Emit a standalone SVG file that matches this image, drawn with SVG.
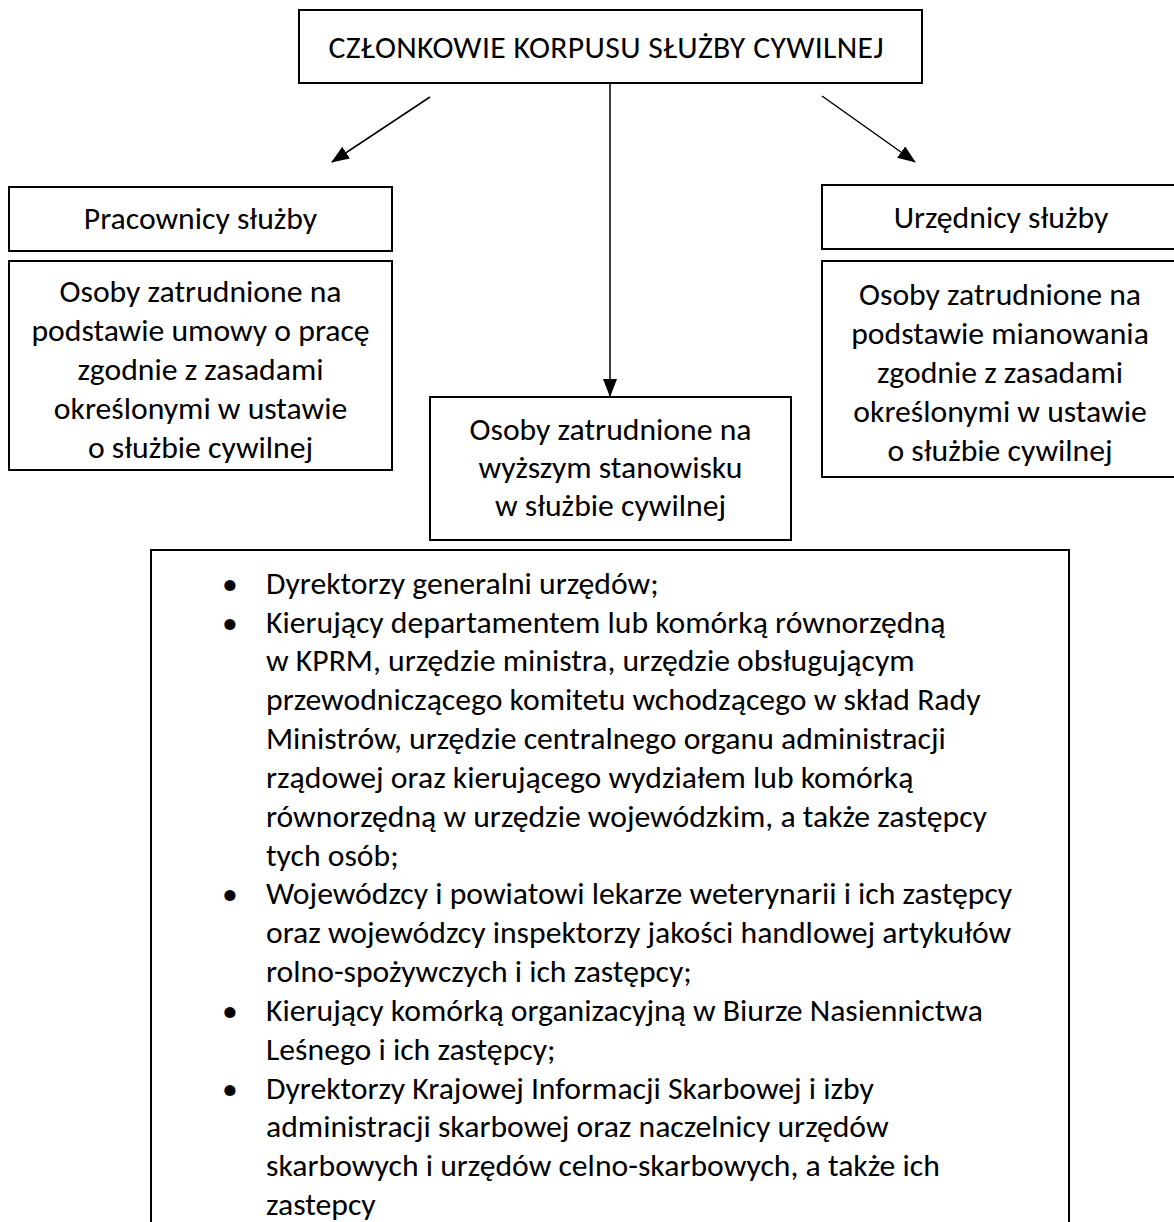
<svg xmlns="http://www.w3.org/2000/svg" width="1174" height="1222" viewBox="0 0 1174 1222">
<style>
.box{fill:#fff;stroke:#000;stroke-width:2}
.t{font-family:"Carlito","Calibri","Lato","Liberation Sans",sans-serif;font-size:31.7px;fill:#000}
.c{text-anchor:middle}
.con{stroke:#000;stroke-width:1.5;fill:none}
</style>
<defs>
<marker id="ah" markerUnits="userSpaceOnUse" markerWidth="18" markerHeight="14" refX="17" refY="7" orient="auto">
<path d="M0,0 L18,7 L0,14 Z" fill="#000"/>
</marker>
</defs>
<rect width="1174" height="1222" fill="#fff"/>
<g id="connectors">
<line class="con" x1="430" y1="97" x2="332" y2="162" marker-end="url(#ah)"/>
<line class="con" x1="822" y1="96" x2="915" y2="162" marker-end="url(#ah)"/>
<line class="con" x1="610" y1="84" x2="610" y2="396" marker-end="url(#ah)"/>
</g>
<g id="root">
<rect class="box" x="299" y="10" width="623" height="73"/>
<text class="t c" x="606" y="58" textLength="555" lengthAdjust="spacing">CZŁONKOWIE KORPUSU SŁUŻBY CYWILNEJ</text>
</g>
<g id="pracownicy">
<rect class="box" x="9" y="187" width="383" height="64"/>
<text class="t c" x="200.5" y="229">Pracownicy służby</text>
</g>
<g id="pracownicy-opis">
<rect class="box" x="9" y="261" width="383" height="209"/>
<text class="t c" x="200.5" y="302">Osoby zatrudnione na</text>
<text class="t c" x="200.5" y="341">podstawie umowy o pracę</text>
<text class="t c" x="200.5" y="380">zgodnie z zasadami</text>
<text class="t c" x="200.5" y="419">określonymi w ustawie</text>
<text class="t c" x="200.5" y="458">o służbie cywilnej</text>
</g>
<g id="urzednicy">
<rect class="box" x="822" y="185" width="360" height="64"/>
<text class="t c" x="1001" y="228">Urzędnicy służby</text>
</g>
<g id="urzednicy-opis">
<rect class="box" x="822" y="261" width="360" height="216"/>
<text class="t c" x="1000" y="305">Osoby zatrudnione na</text>
<text class="t c" x="1000" y="344">podstawie mianowania</text>
<text class="t c" x="1000" y="383">zgodnie z zasadami</text>
<text class="t c" x="1000" y="422">określonymi w ustawie</text>
<text class="t c" x="1000" y="461">o służbie cywilnej</text>
</g>
<g id="wyzsze">
<rect class="box" x="430" y="397" width="361" height="143"/>
<text class="t c" x="610.5" y="440">Osoby zatrudnione na</text>
<text class="t c" x="610.5" y="478">wyższym stanowisku</text>
<text class="t c" x="610.5" y="516">w służbie cywilnej</text>
</g>
<g id="lista">
<rect class="box" x="151" y="550" width="918" height="700"/>
<g class="t">
<text x="222" y="594">•</text>
<text x="266" y="594">Dyrektorzy generalni urzędów;</text>
<text x="222" y="633">•</text>
<text x="266" y="633">Kierujący departamentem lub komórką równorzędną</text>
<text x="266" y="671">w KPRM, urzędzie ministra, urzędzie obsługującym</text>
<text x="266" y="710">przewodniczącego komitetu wchodzącego w skład Rady</text>
<text x="266" y="749">Ministrów, urzędzie centralnego organu administracji</text>
<text x="266" y="788">rządowej oraz kierującego wydziałem lub komórką</text>
<text x="266" y="827">równorzędną w urzędzie wojewódzkim, a także zastępcy</text>
<text x="266" y="866">tych osób;</text>
<text x="222" y="904">•</text>
<text x="266" y="904">Wojewódzcy i powiatowi lekarze weterynarii i ich zastępcy</text>
<text x="266" y="943">oraz wojewódzcy inspektorzy jakości handlowej artykułów</text>
<text x="266" y="982">rolno-spożywczych i ich zastępcy;</text>
<text x="222" y="1021">•</text>
<text x="266" y="1021">Kierujący komórką organizacyjną w Biurze Nasiennictwa</text>
<text x="266" y="1060">Leśnego i ich zastępcy;</text>
<text x="222" y="1099">•</text>
<text x="266" y="1099">Dyrektorzy Krajowej Informacji Skarbowej i izby</text>
<text x="266" y="1137">administracji skarbowej oraz naczelnicy urzędów</text>
<text x="266" y="1176">skarbowych i urzędów celno-skarbowych, a także ich</text>
<text x="266" y="1215">zastepcy</text>
</g>
</g>
</svg>
